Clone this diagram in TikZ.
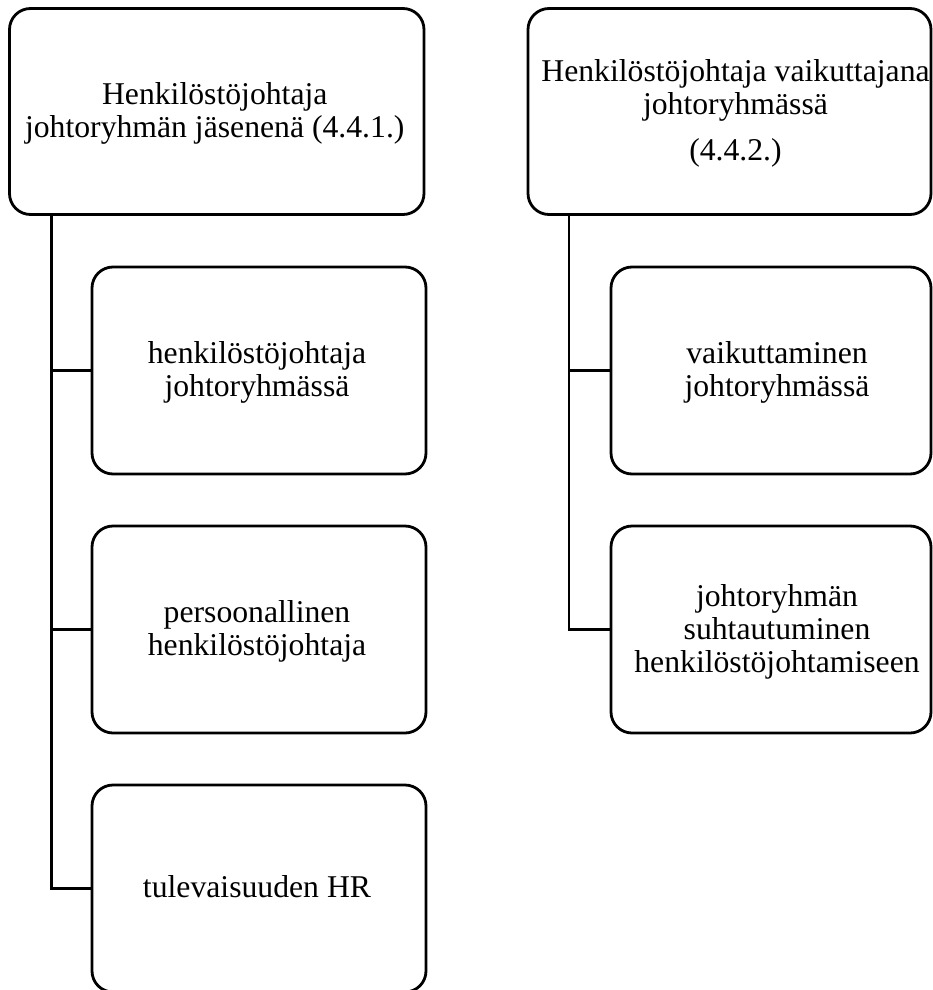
\documentclass[tikz,border=0pt]{standalone}
\usepackage{fontspec}
\setmainfont{Liberation Serif}
% fixed ascent / descent so every text block is centred on its baselines
\newcommand\uprule{\rule{0pt}{23pt}}
\newcommand\dnrule{\rule[-23pt]{0pt}{23pt}}
\begin{document}
\begin{tikzpicture}[x=1pt,y=-1pt,
  box/.style={draw, line width=2.8pt, rounded corners=21pt,
              inner sep=0pt, outer sep=0pt},
  bigbox/.style={box, minimum height=206pt},
  childbox/.style={box, minimum height=207pt},
  txt/.style={align=center, inner sep=0pt,
              font=\fontsize{31.7}{33}\selectfont},
  link/.style={line width=2.8pt}]
\useasboundingbox (0,0) rectangle (932,990);

% left branch
\node[bigbox, minimum width=414.5pt] (lead) at (216.75,111.5) {};
\node[txt] (leadtext) at ([shift={(-2,9)}]lead.center)
  {\uprule Henkilöstöjohtaja\\johtoryhmän jäsenenä (4.4.1.)\dnrule};

\node[childbox, minimum width=334pt] (l1) at (259,370.5) {};
\node[txt] (l1text) at ([shift={(-2,9.5)}]l1.center)
  {\uprule henkilöstöjohtaja\\johtoryhmässä\dnrule};

\node[childbox, minimum width=334pt] (l2) at (259,629.5) {};
\node[txt] (l2text) at ([shift={(-2,9.5)}]l2.center)
  {\uprule persoonallinen\\henkilöstöjohtaja\dnrule};

\node[childbox, minimum width=334pt] (l3) at (259,888.5) {};
\node[txt] (l3text) at ([shift={(-2,9)}]l3.center)
  {\uprule tulevaisuuden HR\dnrule};

% right branch
\node[bigbox, minimum width=403pt] (infl) at (729.5,111.5) {};
\node[txt] (infltext) at ([shift={(6,9)}]infl.center)
  {\uprule Henkilöstöjohtaja vaikuttajana\\johtoryhmässä\\[13pt](4.4.2.)\dnrule};

\node[childbox, minimum width=320pt] (r1) at (771,370.5) {};
\node[txt] (r1text) at ([shift={(6,9.5)}]r1.center)
  {\uprule vaikuttaminen\\johtoryhmässä\dnrule};

\node[childbox, minimum width=320pt] (r2) at (771,629.5) {};
\node[txt] (r2text) at ([shift={(6,9.5)}]r2.center)
  {\uprule johtoryhmän\\suhtautuminen\\henkilöstöjohtamiseen\dnrule};

% elbow connectors
\foreach \c in {l1,l2,l3}
  \draw[link] ([xshift=42pt]lead.south west) |- (\c.west);
\foreach \c in {r1,r2}
  \draw[link] ([xshift=41pt]infl.south west) |- (\c.west);
\end{tikzpicture}
\end{document}
